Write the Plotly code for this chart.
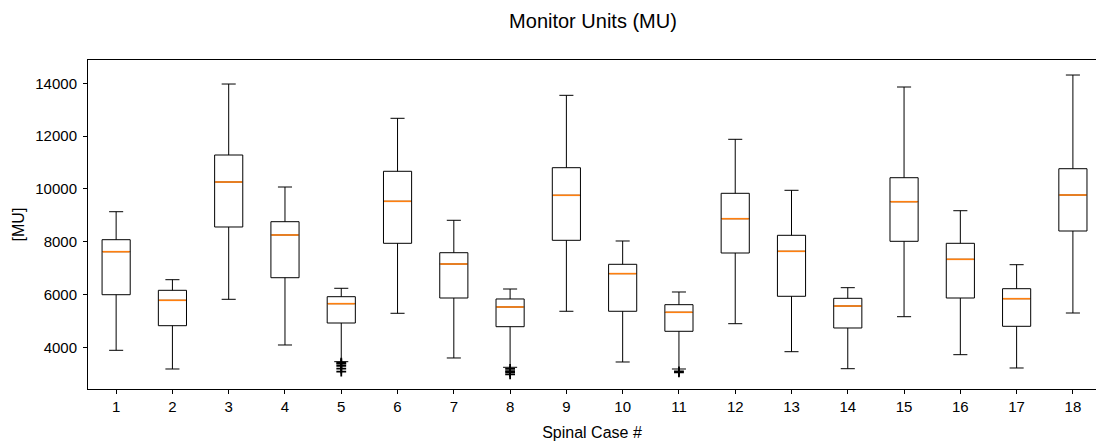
import plotly.graph_objects as go

# Per-case summary statistics of monitor units
cases = list(range(1, 19))
upper_whisker = [9136, 6561, 13973, 10072, 6235, 12674, 8811, 6208, 13545,
                 8027, 6095, 11879, 9947, 6258, 13860, 9174, 7129, 14314]
q3 = [8076, 6159, 11284, 8758, 5917, 10667, 7583, 5830, 10803,
      7144, 5614, 9833, 8242, 5856, 10424, 7939, 6220, 10765]
median = [7621, 5780, 10261, 8254, 5652, 9530, 7155, 5527, 9758,
          6790, 5326, 8871, 7636, 5564, 9515, 7333, 5841, 9769]
q1 = [5992, 4818, 8557, 6636, 4920, 7939, 5867, 4780, 8053,
      5364, 4606, 7572, 5932, 4731, 8015, 5867, 4795, 8405]
lower_whisker = [3886, 3178, 5818, 4087, 3455, 5288, 3595, 3242, 5364,
                 3443, 3178, 4894, 3833, 3189, 5159, 3720, 3216, 5299]

# Outliers below the lower whisker
outlier_case = [5, 5, 5, 5, 5, 8, 8, 8, 8, 11, 11]
outlier_value = [3420, 3380, 3300, 3190, 3080, 3180, 3100, 3050, 2975, 3090, 3050]

box_width = 0.5

fig = go.Figure()

fig.add_trace(go.Box(
    x=cases,
    q1=q1,
    median=median,
    q3=q3,
    lowerfence=lower_whisker,
    upperfence=upper_whisker,
    width=box_width,
    whiskerwidth=0.5,
    boxpoints=False,
    line=dict(color="black", width=1),
    fillcolor="rgba(255,255,255,0)",
    showlegend=False,
    hoverinfo="skip",
))

# Orange median segments on top of each box
mx, my = [], []
for c, m in zip(cases, median):
    mx += [c - box_width / 2 + 0.01, c + box_width / 2 - 0.01, None]
    my += [m, m, None]
fig.add_trace(go.Scatter(
    x=mx, y=my, mode="lines",
    line=dict(color="#ff7f0e", width=1.6),
    showlegend=False, hoverinfo="skip",
))

fig.add_trace(go.Scatter(
    x=outlier_case, y=outlier_value, mode="markers",
    marker=dict(symbol="cross-thin", size=7, color="black",
                line=dict(color="black", width=1.8)),
    showlegend=False, hoverinfo="skip",
))

font_family = "Liberation Sans, Arial, sans-serif"

fig.update_layout(
    width=1096,
    height=441,
    margin=dict(l=88, r=0, t=60, b=52),
    paper_bgcolor="white",
    plot_bgcolor="white",
    font=dict(family=font_family, color="black"),
    title=dict(
        text="Monitor Units (MU)",
        x=593 / 1096, xanchor="center", xref="container",
        y=1 - 21 / 441, yanchor="middle", yref="container",
        font=dict(size=20, family=font_family, color="black"),
    ),
)

fig.update_xaxes(
    range=[0.5, 0.5 + (1096 - 88) / 56.28],
    tickmode="array",
    tickvals=cases,
    ticktext=[str(c) for c in cases],
    ticks="outside", ticklen=4, tickcolor="black",
    showline=True, linecolor="black", linewidth=1, mirror=True,
    showgrid=False, zeroline=False,
    tickfont=dict(size=15),
    title=dict(text="Spinal Case #", font=dict(size=16), standoff=12),
)

fig.update_yaxes(
    range=[2420, 14883],
    tickmode="array",
    tickvals=[4000, 6000, 8000, 10000, 12000, 14000],
    tickformat="d",
    ticks="outside", ticklen=4, tickcolor="black",
    ticklabelstandoff=3,
    showline=True, linecolor="black", linewidth=1, mirror=False,
    showgrid=False, zeroline=False,
    tickfont=dict(size=15),
    title=dict(text="[MU]", font=dict(size=16), standoff=6),
)

fig.write_html("out.html")
